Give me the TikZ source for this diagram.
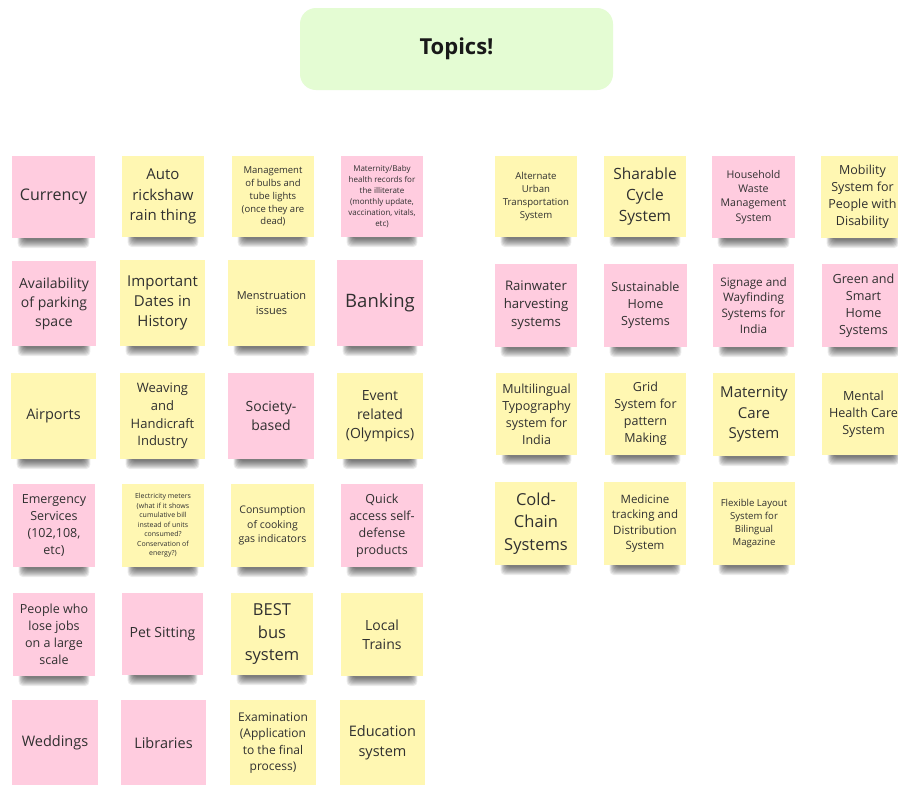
\documentclass[tikz,border=0pt]{standalone}
\usepackage{fontspec}
\setmainfont{Open Sans}

\definecolor{notepink}{HTML}{FFCCDF}
\definecolor{noteyellow}{HTML}{FFF7B2}
\definecolor{titlegreen}{HTML}{E4FCD3}
\definecolor{inkgray}{HTML}{303030}

\tikzset{
  note/.style={inner sep=0pt, align=center, text=inkgray},
  pinknote/.style={note, fill=notepink},
  yellownote/.style={note, fill=noteyellow},
  noteshadow/.style={fill=black, opacity=0.075, rounded corners=4pt},
  titlebox/.style={fill=titlegreen, rounded corners=16pt, inner sep=0pt,
    text=black!90, font=\fontsize{22}{28}\selectfont\bfseries}
}

% sticky note: name, x1, y1, x2, y2, style, font size, text
% a soft shadow of stacked translucent layers sits under the bottom edge
\newcommand\sticky[8]{%
  \foreach \k in {1,...,9}
    \fill[noteshadow] ({#2+5+\k*0.7},{#5-8}) rectangle ({#4-5-\k*0.7},{#5+11-\k});
  \node[#6, minimum width={(#4-#2)*1pt}, minimum height={(#5-#3)*1pt},
    font=\fontsize{#7}{\fpeval{1.36*#7}}\selectfont]
    (#1) at ({(#2+#4)/2},{(#3+#5)/2}) {#8};}

\begin{document}
\begin{tikzpicture}[x=1pt, y=-1pt]
\clip (0,0) rectangle (898,785);
\fill[white] (0,0) rectangle (898,785);

\node[titlebox, minimum width=313pt, minimum height=82pt] (title) at (456.5,49) {Topics!};

% left block
\sticky{currency}{12}{156}{95}{238}{pinknote}{16}{Currency}
\sticky{auto}{122}{156}{204}{237}{yellownote}{15}{Auto\\rickshaw\\rain thing}
\sticky{bulbs}{232}{156}{314}{237}{yellownote}{9.5}{Management\\of bulbs and\\tube lights\\(once they are\\dead)}
\sticky{babyrec}{341}{156}{423}{237}{pinknote}{8}{Maternity/Baby\\health records for\\the illiterate\\(monthly update,\\vaccination, vitals,\\etc)}

\sticky{parking}{12}{261}{96}{346}{pinknote}{14}{Availability\\of parking\\space}
\sticky{dates}{120}{260}{205}{346}{yellownote}{15}{Important\\Dates in\\History}
\sticky{mens}{228}{260}{315}{346}{yellownote}{11}{Menstruation\\issues}
\sticky{banking}{337}{260}{423}{346}{pinknote}{18.5}{Banking}

\sticky{airports}{11}{373}{96}{459}{yellownote}{14.5}{Airports}
\sticky{weaving}{120}{373}{205}{459}{yellownote}{13}{Weaving\\and\\Handicraft\\Industry}
\sticky{society}{228}{373}{314}{459}{pinknote}{14}{Society-\\based}
\sticky{event}{337}{373}{423}{459}{yellownote}{14}{Event\\related\\(Olympics)}

\sticky{emergency}{13}{484}{95}{567}{pinknote}{12.5}{Emergency\\Services\\(102,108,\\etc)}
\sticky{meters}{122}{484}{204}{567}{yellownote}{7}{Electricity meters\\(what if it shows\\cumulative bill\\instead of units\\consumed?\\Conservation of\\energy?)}
\sticky{gas}{231}{484}{314}{567}{yellownote}{10.5}{Consumption\\of cooking\\gas indicators}
\sticky{defense}{341}{484}{423}{567}{pinknote}{12.5}{Quick\\access self-\\defense\\products}

\sticky{jobs}{13}{593}{95}{676}{pinknote}{12.5}{People who\\lose jobs\\on a large\\scale}
\sticky{pets}{122}{593}{203}{675}{pinknote}{14}{Pet Sitting}
\sticky{best}{231}{593}{313}{675}{yellownote}{16.5}{BEST\\bus\\system}
\sticky{trains}{341}{593}{423}{676}{yellownote}{14}{Local\\Trains}

\sticky{weddings}{12}{700}{98}{786}{pinknote}{14.5}{Weddings}
\sticky{libraries}{121}{700}{206}{786}{pinknote}{14.5}{Libraries}
\sticky{exam}{230}{700}{316}{786}{yellownote}{12}{Examination\\(Application\\to the final\\process)}
\sticky{education}{340}{700}{425}{786}{yellownote}{14.5}{Education\\system}

% right block
\sticky{urban}{495}{156}{577}{237}{yellownote}{9.6}{Alternate\\Urban\\Transportation\\System}
\sticky{cycles}{604}{156}{686}{237}{yellownote}{15.5}{Sharable\\Cycle\\System}
\sticky{waste}{712}{156}{795}{238}{pinknote}{10.6}{Household\\Waste\\Management\\System}
\sticky{mobility}{821}{156}{904}{238}{yellownote}{12.5}{Mobility\\System for\\People with\\Disability}

\sticky{rainwater}{495}{264}{577}{347}{pinknote}{13.2}{Rainwater\\harvesting\\systems}
\sticky{susthome}{604}{264}{687}{347}{pinknote}{12.6}{Sustainable\\Home\\Systems}
\sticky{signage}{713}{264}{794}{347}{pinknote}{11.7}{Signage and\\Wayfinding\\Systems for\\India}
\sticky{smarthome}{822}{264}{905}{347}{pinknote}{12.6}{Green and\\Smart\\Home\\Systems}

\sticky{typo}{496}{373}{577}{455}{yellownote}{12.5}{Multilingual\\Typography\\system for\\India}
\sticky{gridsys}{605}{373}{686}{455}{yellownote}{12.5}{Grid\\System for\\pattern\\Making}
\sticky{matcare}{713}{373}{795}{456}{yellownote}{15}{Maternity\\Care\\System}
\sticky{mental}{822}{373}{905}{455}{yellownote}{12.6}{Mental\\Health Care\\System}

\sticky{coldchain}{495}{482}{577}{565}{yellownote}{16.5}{Cold-\\Chain\\Systems}
\sticky{medicine}{604}{482}{686}{565}{yellownote}{11.5}{Medicine\\tracking and\\Distribution\\System}
\sticky{layout}{713}{482}{795}{565}{yellownote}{9.6}{Flexible Layout\\System for\\Bilingual\\Magazine}
\end{tikzpicture}
\end{document}
